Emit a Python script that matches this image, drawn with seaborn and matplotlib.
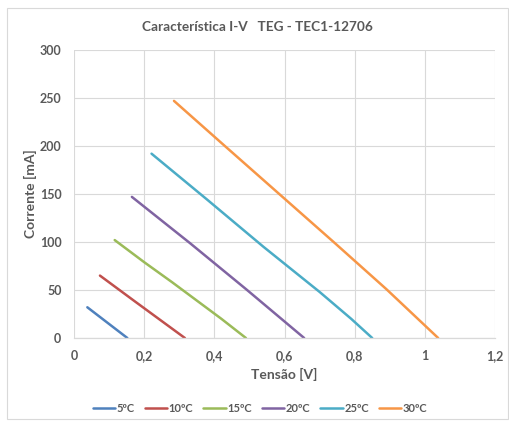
import matplotlib
matplotlib.use("Agg")
import matplotlib.pyplot as plt
import matplotlib.patches as mpatches
import seaborn as sns
import pandas as pd

# I-V curves of a TEC1-12706 thermoelectric generator at several temperature differences
labels = ["5ºC", "10ºC", "15ºC", "20ºC", "25ºC", "30ºC"]
v_5 = [0.038, 0.095, 0.152]
i_5 = [32, 16, 0]
v_10 = [0.074, 0.174, 0.316]
i_10 = [65, 38, 0]
v_15 = [0.116, 0.2, 0.28, 0.35, 0.42, 0.49]
i_15 = [102, 79, 58, 39, 20, 0]
v_20 = [0.165, 0.33, 0.49, 0.656]
i_20 = [147, 99, 51, 0]
v_25 = [0.221, 0.38, 0.54, 0.70, 0.79, 0.85]
i_25 = [192, 144, 95, 48, 20, 0]
v_30 = [0.285, 0.43, 0.585, 0.74, 0.89, 1.038]
i_30 = [247, 200, 150, 100, 51, 0]

x_ticks = [0, 0.2, 0.4, 0.6, 0.8, 1.0, 1.2]
x_tick_labels = ["0", "0,2", "0,4", "0,6", "0,8", "1", "1,2"]
y_ticks = [0, 50, 100, 150, 200, 250, 300]

colors = ["#4F81BD", "#C0504D", "#9BBB59", "#8064A2", "#4BACC6", "#F79646"]

series = [(v_5, i_5), (v_10, i_10), (v_15, i_15), (v_20, i_20), (v_25, i_25), (v_30, i_30)]
frames = []
for lab, (v, i) in zip(labels, series):
    frames.append(pd.DataFrame({"Tensão": v, "Corrente": i, "Temperatura": lab}))
df = pd.concat(frames, ignore_index=True)

sns.set_theme(style="white")
plt.rcParams["font.family"] = ["Lato", "DejaVu Sans"]
text_color = "#595959"
grid_color = "#D9D9D9"

fig = plt.figure(figsize=(5.10, 4.21), dpi=100)
fig.patches.append(mpatches.Rectangle((7 / 510, 2 / 421), 501 / 510, 411 / 421,
                                      transform=fig.transFigure, fill=False,
                                      edgecolor="#D9D9D9", linewidth=0.8))
ax = fig.add_axes([74 / 510, 1 - 338 / 421, (495 - 74) / 510, (338 - 50) / 421])

sns.lineplot(data=df, x="Tensão", y="Corrente", hue="Temperatura",
             palette=colors, hue_order=labels, sort=False, estimator=None,
             linewidth=1.8, ax=ax, legend=True)

ax.set_xlim(0, 1.2)
ax.set_ylim(0, 300)
ax.set_xticks(x_ticks)
ax.set_xticklabels(x_tick_labels)
ax.set_yticks(y_ticks)
ax.grid(True, color=grid_color, linewidth=0.8)
ax.set_axisbelow(True)
for side in ["top", "right", "left"]:
    ax.spines[side].set_visible(False)
ax.spines["bottom"].set_color(grid_color)
ax.spines["bottom"].set_linewidth(0.9)
ax.tick_params(axis="both", length=0, labelsize=9, labelcolor=text_color, pad=9)
for t in ax.get_xticklabels() + ax.get_yticklabels():
    t.set_fontweight("bold")

ax.set_xlabel("Tensão [V]", fontsize=10, fontweight="bold", color=text_color, labelpad=4)
ax.set_ylabel("Corrente [mA]", fontsize=10, fontweight="bold", color=text_color, labelpad=2)
fig.text(0.505, 1 - 27 / 421, "Característica I-V   TEG - TEC1-12706", ha="center", va="center",
         fontsize=9.8, fontweight="bold", color=text_color)

handles, _ = ax.get_legend_handles_labels()
ax.legend_.remove()
leg = fig.legend(handles, labels, loc="center", bbox_to_anchor=(0.51, 1 - 408 / 421),
                 ncol=6, frameon=False, fontsize=8, handlelength=2.0, handletextpad=0.15,
                 columnspacing=0.9)
for t in leg.get_texts():
    t.set_color(text_color)
    t.set_fontweight("bold")

fig.savefig("out.png", dpi=100)
